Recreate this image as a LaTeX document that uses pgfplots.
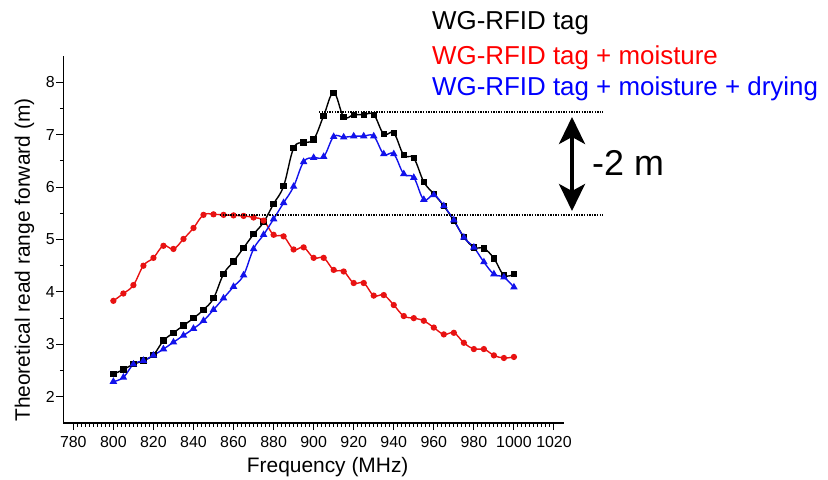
\documentclass[border=0pt]{standalone}
\usepackage{pgfplots}
\pgfplotsset{compat=1.18}
\usepackage{fontspec}
\setmainfont{Liberation Sans}
\usetikzlibrary{arrows.meta}
\definecolor{lred}{RGB}{232,18,18}
\definecolor{lblue}{RGB}{18,18,235}
\begin{document}
\begin{tikzpicture}
\path[use as bounding box] (-63.3bp,-57bp) rectangle (764.7bp,423bp);
\begin{axis}[
  at={(0,0)}, anchor=south west,
  scale only axis, width=500.7bp, height=367bp,
  xmin=775, xmax=1025, ymin=1.5, ymax=8.5,
  axis x line*=bottom, axis y line*=left,
  axis line style={line width=1.1bp, -},
  xtick={780,800,...,1020}, ytick={2,3,...,8},
  minor x tick num=9, minor y tick num=1,
  tick align=outside,
  major tick length=7bp, minor tick length=3.5bp,
  every tick/.style={black, line width=1bp},
  tick label style={font=\fontsize{16}{18}\selectfont},
  xticklabel style={yshift=-3bp},
  yticklabel style={xshift=2bp},
  /pgf/number format/assume math mode=true,
  /pgf/number format/1000 sep={},
  xlabel={Frequency (MHz)},
  ylabel={Theoretical read range forward (m)},
  label style={font=\fontsize{21}{25}\selectfont},
  xlabel style={at={(rel axis cs:0.528,0)}, anchor=center, yshift=-44bp},
  ylabel style={at={(rel axis cs:-0.0775,0.444)}, anchor=center},
  clip=false,
]
\addplot[black, line width=1.4bp, smooth, tension=0.65, mark=square*, mark size=2.5bp, mark options={solid}] coordinates {
(800,2.43) (805,2.52) (810,2.62) (815,2.69) (820,2.80) (825,3.07) (830,3.22) (835,3.36) (840,3.50) (845,3.66)
(850,3.88) (855,4.34) (860,4.58) (865,4.84) (870,5.10) (875,5.33) (880,5.68) (885,6.02) (890,6.74) (895,6.85)
(900,6.91) (905,7.36) (910,7.80) (915,7.34) (920,7.38) (925,7.38) (930,7.38) (935,7.01) (940,7.03) (945,6.61)
(950,6.55) (955,6.10) (960,5.87) (965,5.64) (970,5.36) (975,5.05) (980,4.85) (985,4.83) (990,4.64) (995,4.32)
(1000,4.34)};
\addplot[lred, line width=1.4bp, smooth, tension=0.65, mark=*, mark size=2.4bp, mark options={solid}] coordinates {
(800,3.83) (805,3.97) (810,4.13) (815,4.50) (820,4.65) (825,4.88) (830,4.82) (835,5.01) (840,5.22) (845,5.47)
(850,5.48) (855,5.47) (860,5.46) (865,5.45) (870,5.42) (875,5.36) (880,5.09) (885,5.06) (890,4.81) (895,4.85)
(900,4.65) (905,4.65) (910,4.42) (915,4.39) (920,4.17) (925,4.17) (930,3.93) (935,3.94) (940,3.75) (945,3.54)
(950,3.50) (955,3.45) (960,3.32) (965,3.19) (970,3.22) (975,3.03) (980,2.91) (985,2.91) (990,2.79) (995,2.74)
(1000,2.76)};
\addplot[lblue, line width=1.4bp, smooth, tension=0.65, mark=triangle*, mark size=3bp, mark options={solid}] coordinates {
(800,2.29) (805,2.37) (810,2.62) (815,2.69) (820,2.79) (825,2.91) (830,3.04) (835,3.17) (840,3.30) (845,3.45)
(850,3.66) (855,3.88) (860,4.10) (865,4.32) (870,4.82) (875,5.09) (880,5.39) (885,5.70) (890,6.01) (895,6.48)
(900,6.56) (905,6.58) (910,6.96) (915,6.95) (920,6.97) (925,6.97) (930,6.97) (935,6.63) (940,6.63) (945,6.25)
(950,6.18) (955,5.76) (960,5.85) (965,5.64) (970,5.37) (975,5.04) (980,4.85) (985,4.57) (990,4.34) (995,4.28)
(1000,4.09)};
\end{axis}
\draw[line width=1.2bp, dash pattern=on 1.3bp off 1.3bp] (255.7bp,311bp) -- (539.7bp,311bp);
\draw[line width=1.2bp, dash pattern=on 1.3bp off 1.3bp] (156.7bp,208bp) -- (539.7bp,208bp);
\draw[line width=3.5bp, {Stealth[length=27bp,width=26bp,inset=7bp]}-{Stealth[length=27bp,width=26bp,inset=7bp]}] (508.7bp,306bp) -- (508.7bp,212bp);
\node[anchor=west, inner sep=0, font=\fontsize{36}{40}\selectfont] at (528.7bp,260bp) {-2 m};
\node[anchor=base west, inner sep=0, font=\fontsize{26}{30}\selectfont] at (368.7bp,393bp) {WG-RFID tag};
\node[anchor=base west, inner sep=0, text=red, font=\fontsize{26}{30}\selectfont] at (368.7bp,358bp) {WG-RFID tag + moisture};
\node[anchor=base west, inner sep=0, text=blue, font=\fontsize{26}{30}\selectfont] at (368.7bp,327bp) {WG-RFID tag + moisture + drying};
\end{tikzpicture}
\end{document}
